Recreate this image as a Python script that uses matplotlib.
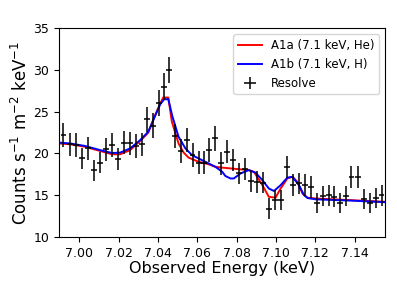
import matplotlib
matplotlib.use('Agg')
import matplotlib.pyplot as plt

# Resolve data points (energy, counts, error)
energy=[6.9920,6.9953,6.9983,7.0014,7.0044,7.0075,7.0106,7.0136,7.0167,7.0197,
        7.0228,7.0259,7.0289,7.0317,7.0345,7.0376,7.0404,7.0431,7.0455,7.0485,
        7.0515,7.0546,7.0576,7.0607,7.0634,7.0662,7.0689,7.0723,7.0752,7.0782,
        7.0813,7.0844,7.0874,7.0905,7.0936,7.0966,7.0997,7.1027,7.1058,7.1089,
        7.1119,7.1146,7.1177,7.1207,7.1238,7.1268,7.1296,7.1326,7.1357,7.1384,
        7.1415,7.1449,7.1476,7.1507,7.1537]
counts=[22.2,21.1,21.0,19.4,20.6,18.0,18.9,20.5,21.0,19.3,
        21.3,21.2,20.9,21.1,24.1,23.3,26.0,28.0,30.0,22.1,
        20.3,21.6,19.8,18.9,18.9,20.4,21.8,18.8,20.2,19.2,
        17.6,18.1,16.7,16.6,16.5,13.4,14.4,14.4,18.4,16.2,
        16.4,16.2,16.0,14.1,14.9,15.0,14.8,14.1,14.9,17.2,
        17.2,14.5,14.1,14.7,15.0]
counts_err=[1.4,1.4,1.4,1.3,1.4,1.25,1.3,1.4,1.4,1.3,
            1.4,1.4,1.4,1.4,1.5,1.5,1.55,1.6,1.6,1.45,
            1.4,1.45,1.4,1.35,1.35,1.4,1.45,1.35,1.4,1.35,
            1.3,1.3,1.3,1.3,1.3,1.2,1.2,1.2,1.35,1.3,
            1.3,1.3,1.3,1.2,1.25,1.25,1.25,1.2,1.25,1.3,
            1.3,1.2,1.2,1.2,1.25]
bin_half=0.0015

# model A1a (He)
he_x=[6.9898,6.9953,7.0029,7.0106,7.0167,7.0208,7.0259,7.0310,7.0351,7.0386,
      7.0412,7.0427,7.0453,7.0471,7.0505,7.0531,7.0556,7.0607,7.0658,7.0692,
      7.0727,7.0862,7.0888,7.0931,7.0964,7.0998,7.1024,7.1058,7.1084,7.1109,
      7.1135,7.1160,7.1202,7.1381,7.1560]
he_y=[21.2,21.1,20.8,20.3,19.9,19.9,20.4,21.5,22.5,24.6,
      26.0,26.7,26.7,23.8,21.2,20.1,19.5,19.0,18.7,18.4,
      18.3,18.0,17.8,16.2,14.8,14.7,15.8,17.0,17.2,16.6,
      15.2,14.7,14.6,14.4,14.2]
# model A1b (H)
h_x=[6.9898,6.9953,7.0029,7.0106,7.0167,7.0208,7.0259,7.0310,7.0351,7.0386,
     7.0412,7.0432,7.0453,7.0473,7.0505,7.0540,7.0573,7.0624,7.0675,7.0692,
     7.0727,7.0743,7.0769,7.0786,7.0820,7.0862,7.0896,7.0931,7.0964,7.0990,
     7.1024,7.1058,7.1084,7.1117,7.1143,7.1162,7.1202,7.1381,7.1560]
h_y=[21.3,21.2,20.9,20.4,20.05,20.1,20.6,21.6,22.6,24.5,
     25.9,26.5,26.5,24.5,22.0,20.6,19.8,19.2,18.6,18.4,
     17.8,17.3,17.0,17.0,17.6,18.0,17.7,16.8,15.8,15.5,
     16.2,17.1,17.2,16.2,15.0,14.65,14.5,14.35,14.15]

fig=plt.figure(figsize=(3.97,2.83),dpi=100)
ax=fig.add_axes([0.149,0.163,0.821,0.737])
ax.plot(he_x,he_y,color='red',lw=1.4,label='A1a (7.1 keV, He)')
ax.plot(h_x,h_y,color='blue',lw=1.4,label='A1b (7.1 keV, H)')
ax.errorbar(energy,counts,xerr=bin_half,yerr=counts_err,fmt='none',ecolor='black',elinewidth=1.1,label='Resolve')
ax.set_xlim(6.9898,7.1555)
ax.set_ylim(10,35)
ax.set_xticks([7.00,7.02,7.04,7.06,7.08,7.10,7.12,7.14])
ax.set_yticks([10,15,20,25,30,35])
ax.tick_params(labelsize=9)
ax.set_xlabel('Observed Energy (keV)',fontsize=11.5,labelpad=1)
ax.set_ylabel(r'Counts s$^{-1}$ m$^{-2}$ keV$^{-1}$',fontsize=12,labelpad=2)
ax.legend(loc='upper right',fontsize=8.5)
fig.savefig('out.png',dpi=100)
